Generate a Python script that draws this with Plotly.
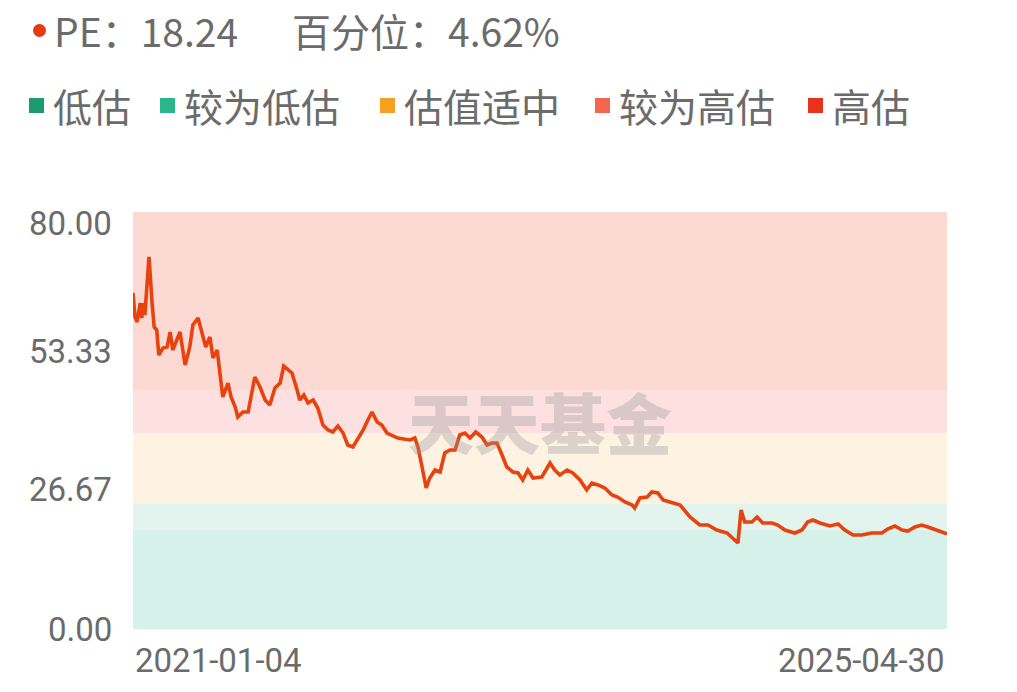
import pandas as pd
import plotly.graph_objects as go

# ---------------- data ----------------
start_date = "2021-01-04"
end_label = "2025-04-30"
# days since start_date for each sample
day_offsets = [0, 4, 8, 14, 17, 19, 23, 31, 37, 41, 46, 50, 58, 66, 72, 77, 91, 101, 110, 116,
               126, 134, 141, 149, 155, 163, 174, 184, 190, 198, 203, 213, 223, 236, 246, 256, 265,
               275, 285, 292, 300, 308, 318, 323, 331, 339, 349, 358, 368, 378, 387, 397, 407, 416,
               426, 436, 446, 455, 463, 473, 482, 492, 502, 513, 527, 537, 546, 552, 560, 568, 575,
               585, 595, 604, 614, 624, 633, 643, 653, 664, 676, 686, 695, 705, 715, 724, 736, 746,
               755, 765, 775, 784, 792, 808, 817, 827, 841, 852, 866, 879, 889, 901, 914, 928, 939,
               953, 967, 972, 982, 996, 1005, 1017, 1027, 1040, 1060, 1079, 1098, 1114, 1131, 1151,
               1162, 1172, 1178, 1185, 1199, 1209, 1220, 1238, 1249, 1263, 1282, 1296, 1307, 1317,
               1331, 1350, 1366, 1379, 1395, 1412, 1431, 1451, 1462, 1476, 1490, 1501, 1515, 1528,
               1540, 1553, 1567, 1577]
pe_values = [64.46, 59.86, 58.90, 62.54, 59.66, 62.54, 60.24, 71.37, 62.54, 57.94, 57.36, 52.57,
             53.91, 54.10, 56.98, 53.53, 56.98, 50.65, 54.10, 58.32, 59.66, 56.79, 54.10, 56.02,
             51.99, 53.53, 44.51, 47.19, 44.51, 42.59, 40.67, 41.63, 41.63, 48.35, 46.43, 43.93,
             42.97, 46.24, 47.19, 50.46, 49.69, 49.11, 45.85, 43.93, 44.89, 43.36, 43.93, 42.40,
             39.14, 38.18, 37.79, 38.94, 37.60, 35.30, 34.92, 36.64, 38.18, 40.10, 41.63, 39.71,
             39.14, 37.60, 37.22, 36.64, 36.40, 36.26, 36.64, 34.92, 31.08, 27.05, 28.97, 30.50,
             30.12, 33.77, 34.34, 34.34, 37.22, 37.60, 36.64, 37.79, 36.83, 35.30, 35.68, 35.68,
             33.38, 31.08, 30.12, 29.93, 28.59, 30.50, 28.97, 29.16, 29.16, 31.85, 30.50, 29.54,
             30.50, 29.93, 28.59, 26.67, 28.01, 27.63, 27.05, 25.71, 25.32, 24.36, 23.79, 23.21,
             25.13, 25.32, 26.28, 26.09, 24.75, 24.36, 23.79, 21.49, 19.95, 19.95, 18.99, 18.42,
             17.46, 16.50, 22.83, 20.53, 20.53, 21.49, 20.34, 20.34, 19.95, 18.99, 18.42, 18.99,
             20.53, 20.91, 20.34, 19.76, 20.14, 18.99, 18.03, 18.03, 18.42, 18.42, 19.18, 19.76,
             18.99, 18.80, 19.57, 19.95, 19.57, 19.18, 18.61, 18.24]

# valuation bands (lower, upper)
band_names = ["低估", "较为低估", "估值适中", "较为高估", "高估"]
band_lower = [0, 19.0, 24.0, 37.6, 45.85]
band_upper = [19.0, 24.0, 37.6, 45.85, 80]
band_fill = ["#d6f1e9", "#e3f4ef", "#fef2e3", "#fde1e1", "#fdd9d3"]
legend_colors = ["#1b9b6e", "#2bb68a", "#f5a020", "#f4654f", "#e8321c"]

y_ticks = [0, 26.67, 53.33, 80]
pe_now = "18.24"
percentile = "4.62%"

dates = pd.Timestamp(start_date) + pd.to_timedelta(day_offsets, unit="D")

# ---------------- layout helpers ----------------
W, H = 1017, 692
L, R, T, B = 133, 947, 212, 629  # plot area in page pixels


def px(x):
    return (x - L) / (R - L)


def py(y):
    return (B - y) / (B - T)


GRAY = "#6b6b6b"
CJK = "Noto Sans CJK SC"

fig = go.Figure()

# bands
for lo, hi, c in zip(band_lower, band_upper, band_fill):
    fig.add_shape(type="rect", xref="paper", yref="y", x0=0, x1=1, y0=lo, y1=hi,
                  fillcolor=c, line_width=0, layer="below")

fig.add_trace(go.Scatter(x=dates, y=pe_values, mode="lines",
                         line=dict(color="#e8420f", width=3.6), hoverinfo="skip",
                         showlegend=False))

# watermark
fig.add_annotation(text="天天基金", xref="paper", yref="paper", x=px(540), y=py(420),
                   showarrow=False, font=dict(family=CJK, size=66, color="rgba(150,150,150,0.33)",
                                              weight=900))

# y labels
for v in y_ticks:
    top = v == max(y_ticks)
    fig.add_annotation(text=f"{v:.2f}", xref="paper", yref="y", x=px(114), y=v,
                       xanchor="right", yanchor="middle", yshift=-11 if top else 0,
                       showarrow=False, font=dict(family="Roboto", size=33, color=GRAY))

# x labels
fig.add_annotation(text=start_date, x=dates[0], xref="x", yref="paper", y=py(660),
                   xanchor="left", yanchor="middle", showarrow=False,
                   font=dict(family="Roboto", size=33, color=GRAY))
fig.add_annotation(text=end_label, x=dates[-1], xref="x", yref="paper", y=py(660),
                   xanchor="right", yanchor="middle", showarrow=False,
                   font=dict(family="Roboto", size=33, color=GRAY))

# header: PE and percentile
fig.add_shape(type="circle", xref="paper", yref="paper",
              x0=px(33), x1=px(46), y0=py(37), y1=py(24), fillcolor="#e8380d", line_width=0)
fig.add_annotation(text=f"PE：{pe_now}", xref="paper", yref="paper", x=px(52), y=py(30),
                   xanchor="left", yanchor="middle", showarrow=False,
                   font=dict(family=CJK, size=39, color=GRAY))
fig.add_annotation(text=f"百分位：{percentile}", xref="paper", yref="paper", x=px(290), y=py(30),
                   xanchor="left", yanchor="middle", showarrow=False,
                   font=dict(family=CJK, size=39, color=GRAY))

# legend
sq_x = [29, 160, 380, 595, 808]
for name, col, sx in zip(band_names, legend_colors, sq_x):
    fig.add_shape(type="rect", xref="paper", yref="paper", x0=px(sx), x1=px(sx + 15),
                  y0=py(113), y1=py(98), fillcolor=col, line_width=0)
    fig.add_annotation(text=name, xref="paper", yref="paper", x=px(sx + 22), y=py(105),
                       xanchor="left", yanchor="middle", showarrow=False,
                       font=dict(family=CJK, size=39, color=GRAY))

fig.update_layout(
    width=W, height=H,
    margin=dict(l=L, r=W - R, t=T, b=H - B, pad=0),
    paper_bgcolor="white", plot_bgcolor="white",
    hovermode=False,
    xaxis=dict(range=[dates[0], dates[-1]], showgrid=False, zeroline=False,
               showticklabels=False, showline=False, ticks=""),
    yaxis=dict(range=[0, 80], showgrid=False, zeroline=False, showticklabels=False,
               showline=False, ticks=""),
)

fig.write_html("out.html", config={"displayModeBar": False},
               post_script="document.body.style.margin='0px';document.body.style.overflow='hidden';")
